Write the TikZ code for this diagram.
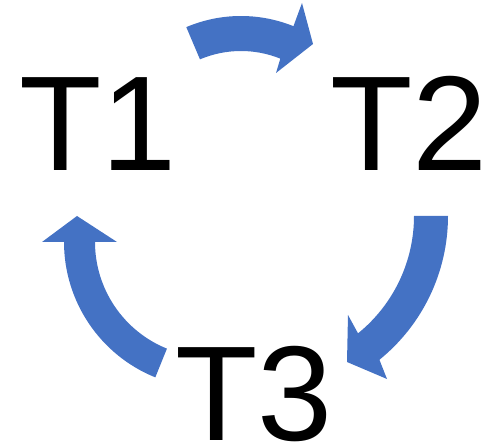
\documentclass[tikz,border=0pt]{standalone}
\usepackage{fontspec}
\setmainfont{Liberation Sans}
\definecolor{arrowblue}{HTML}{4472C4}
\begin{document}
\begin{tikzpicture}[x=1pt,y=1pt,
  lbl/.style={inner sep=0pt, anchor=base west, text depth=0pt, font=\fontsize{135}{135}\selectfont},
  cyc/.style={fill=arrowblue, draw=none}]
\useasboundingbox (0,0) rectangle (493,445);
\node[lbl] (t1) at (19,274) {T1};
\node[lbl] (t2) at (330,274) {T2};
\node[lbl] (t3) at (175,5) {T3};
% top arrow T1 -> T2
\fill[cyc] ([shift={(241,289)}]113:140) arc[start angle=113, end angle=68, radius=140]
  -- (302,442) -- (313,401) -- (276,372)
  -- ([shift={(241,289)}]68:105) arc[start angle=68, end angle=113, radius=105] -- cycle;
% right arrow T2 -> T3
\fill[cyc] ([shift={(263,229)}]0:185) arc[start angle=0, end angle=-51, radius=185]
  -- (387,66) -- (347,83) -- (348,130)
  -- ([shift={(263,229)}]-51:151) arc[start angle=-51, end angle=0, radius=151] -- cycle;
% left arrow T3 -> T1
\fill[cyc] ([shift={(210,203)}]248:146) arc[start angle=248, end angle=180, radius=146]
  -- (42,203) -- (77,229) -- (117,203)
  -- ([shift={(210,203)}]180:115) arc[start angle=180, end angle=248, radius=115] -- cycle;
\end{tikzpicture}
\end{document}
